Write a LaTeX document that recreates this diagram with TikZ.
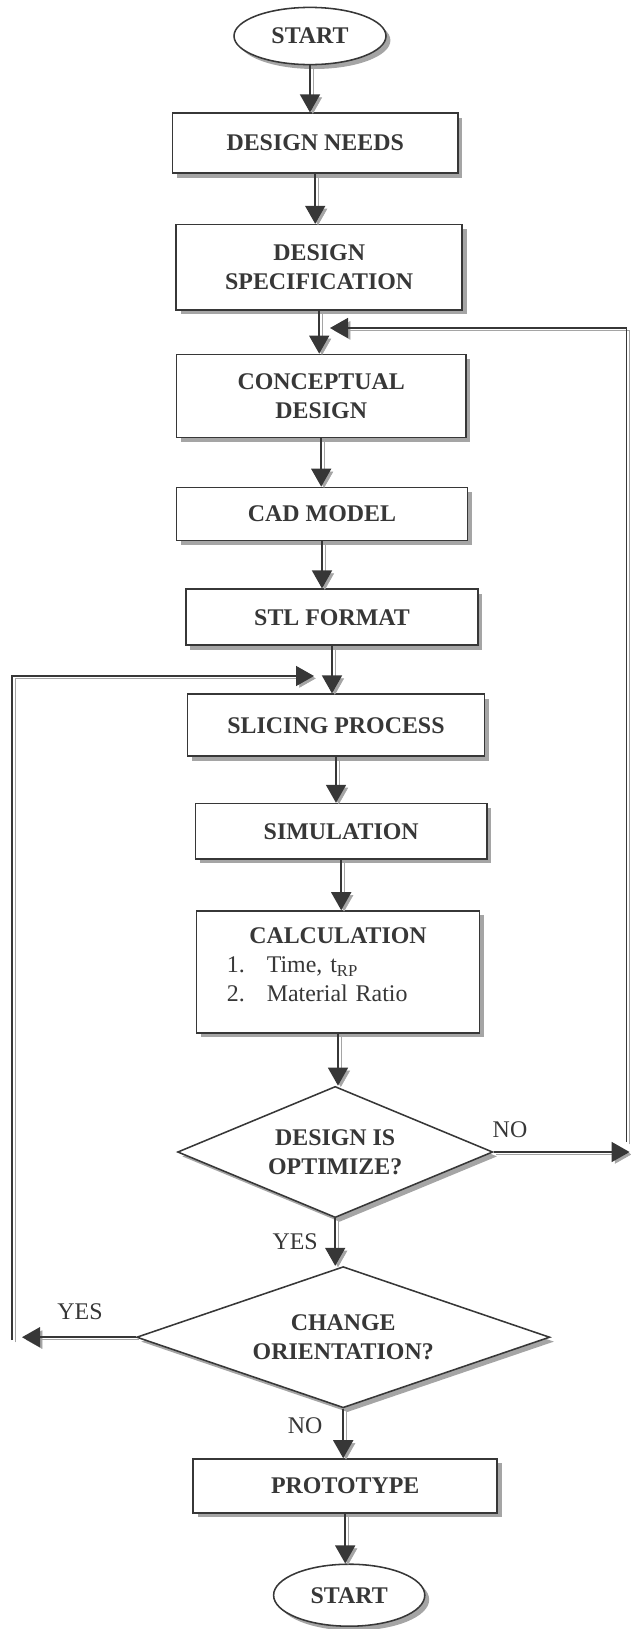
\documentclass[tikz,border=0pt]{standalone}
\usepackage{fontspec}
\setmainfont{Liberation Serif}
\usepackage{tikz}
\usetikzlibrary{arrows.meta}
\usetikzlibrary{positioning}
\usetikzlibrary{shapes.geometric}
\usetikzlibrary{shadows}
\definecolor{inkgray}{RGB}{55, 55, 55}
\definecolor{shadegray}{RGB}{165, 165, 165}
\tikzset{
    stepbox/.style={draw=inkgray, line width=1.1pt, fill=white, text=inkgray,
        font=\bfseries\fontsize{17}{20.4}\selectfont, align=center, inner sep=0pt,
        drop shadow={shadow xshift=0.11cm, shadow yshift=-0.11cm, fill=shadegray, opacity=1}},
    terminal/.style={stepbox, ellipse},
    decision/.style={stepbox, diamond},
    flowarrow/.style={draw=inkgray, line width=1.1pt, -{Triangle[length=0.45cm, width=0.50cm]},
        preaction={draw=shadegray, transform canvas={shift={(0.07cm,-0.06cm)}}}},
    answer/.style={text=inkgray, font=\fontsize{17}{20.4}\selectfont}
}

\begin{document}
\begin{tikzpicture}
            % Frame to ensure alignment:
            \useasboundingbox                                              ( 0.00,  0.00) rectangle (15.75, -40.725);
            % Main column:
            \node[terminal, minimum width=3.80cm, minimum height=1.43cm]  (start)   at ( 7.75,  -0.90) {START};
            \node[stepbox,  minimum width=7.13cm, minimum height=1.50cm]  (needs)   at ( 7.88,  -3.58) {DESIGN NEEDS};
            \node[stepbox,  minimum width=7.15cm, minimum height=2.13cm]  (spec)    at ( 7.98,  -6.68) {DESIGN\\SPECIFICATION};
            \node[stepbox,  minimum width=7.23cm, minimum height=2.08cm]  (concept) at ( 8.03,  -9.90) {CONCEPTUAL\\DESIGN};
            \node[stepbox,  minimum width=7.28cm, minimum height=1.33cm]  (cad)     at ( 8.05, -12.85) {CAD MODEL};
            \node[stepbox,  minimum width=7.30cm, minimum height=1.40cm]  (stl)     at ( 8.30, -15.43) {STL FORMAT};
            \node[stepbox,  minimum width=7.43cm, minimum height=1.55cm]  (slicing) at ( 8.40, -18.13) {SLICING PROCESS};
            \node[stepbox,  minimum width=7.28cm, minimum height=1.38cm]  (simul)   at ( 8.53, -20.78) {SIMULATION};
            \node[stepbox,  minimum width=7.08cm, minimum height=3.05cm,
                  text width=6.60cm, align=left]                          (calc)    at ( 8.45, -24.30)
                 {{\centering CALCULATION\par}\mdseries
                  \hspace*{0.52cm}\makebox[1.00cm][l]{1.}Time, t\textsubscript{RP}\\
                  \hspace*{0.52cm}\makebox[1.00cm][l]{2.}Material Ratio\par\vspace*{0.36cm}};
            \node[decision, aspect=2.4, minimum width=7.88cm,  minimum height=3.28cm] (optim)  at ( 8.38, -28.80) {DESIGN IS\\OPTIMIZE?};
            \node[decision, aspect=2.9, minimum width=10.33cm, minimum height=3.53cm] (orient) at ( 8.58, -33.43) {CHANGE\\ORIENTATION?};
            \node[stepbox,  minimum width=7.60cm, minimum height=1.35cm]  (proto)   at ( 8.63, -37.15) {PROTOTYPE};
            \node[terminal, minimum width=3.78cm, minimum height=1.55cm]  (finish)  at ( 8.73, -39.88) {START};
            % Loop ends:
            \coordinate (noend)  at (15.74, -28.80);
            \coordinate (rbot)   at (15.66, -28.55);
            \coordinate (cjoin)  at ( 8.25,  -8.20);
            \coordinate (yesend) at ( 0.55, -33.43);
            \coordinate (lbot)   at ( 0.30, -33.50);
            \coordinate (sjoin)  at ( 7.85, -16.90);
            % Answers:
            \node[answer] (noright) at (12.75, -28.25) {NO};
            \node[answer] (yesdown) at ( 7.38, -31.05) {YES};
            \node[answer] (yesleft) at ( 2.00, -32.80) {YES};
            \node[answer] (nodown)  at ( 7.63, -35.65) {NO};
            % Connectors:
            \draw[flowarrow] (start.south)   -- (start.south   |- needs.north);
            \draw[flowarrow] (needs.south)   -- (needs.south   |- spec.north);
            \draw[flowarrow] (spec.south)    -- (spec.south    |- concept.north);
            \draw[flowarrow] (concept.south) -- (concept.south |- cad.north);
            \draw[flowarrow] (cad.south)     -- (cad.south     |- stl.north);
            \draw[flowarrow] (stl.south)     -- (stl.south     |- slicing.north);
            \draw[flowarrow] (slicing.south) -- (slicing.south |- simul.north);
            \draw[flowarrow] (simul.south)   -- (simul.south   |- calc.north);
            \draw[flowarrow] (calc.south)    -- (calc.south    |- optim.north);
            \draw[flowarrow] (optim.south)   -- (optim.south   |- orient.north);
            \draw[flowarrow] (orient.south)  -- (orient.south  |- proto.north);
            \draw[flowarrow] (proto.south)   -- (proto.south   |- finish.north);
            \draw[flowarrow] (optim.east)    -- (noend);
            \draw[flowarrow] (rbot)          |- (cjoin);
            \draw[flowarrow] (orient.west)   -- (yesend);
            \draw[flowarrow] (lbot)          |- (sjoin);
        \end{tikzpicture}
\end{document}
